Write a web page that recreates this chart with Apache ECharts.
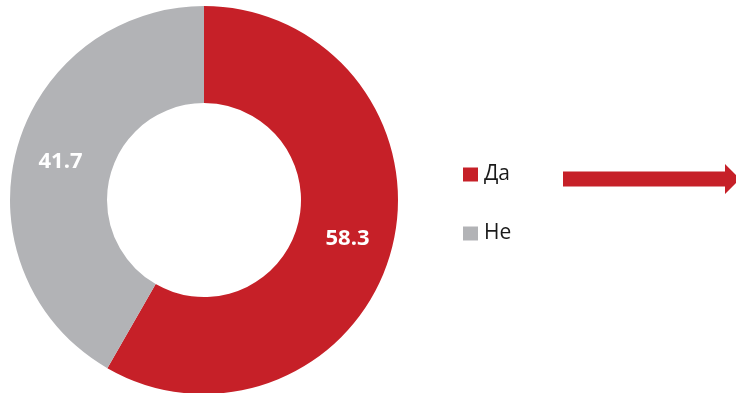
<!DOCTYPE html>
<html>
<head>
<meta charset="utf-8">
<script src="https://cdn.jsdelivr.net/npm/echarts@6/dist/echarts.min.js"></script>
<style>
html,body{margin:0;padding:0;background:#fff;}
#c{width:736px;height:393px;}
</style>
</head>
<body>
<div id="c"></div>
<script>
const categories = ['Да', 'Не'];
const values = [58.3, 41.7];
const colors = ['#C62028', '#B2B3B6'];

const chart = echarts.init(document.getElementById('c'), null, {renderer: 'canvas'});
chart.setOption({
  animation: false,
  legend: {
    orient: 'vertical',
    left: 463,
    top: 164,
    padding: 0,
    itemWidth: 15,
    itemHeight: 14,
    itemGap: 38,
    icon: 'rect',
    data: categories,
    textStyle: {fontFamily: 'Open Sans', fontSize: 21, lineHeight: 20, color: '#1a1a1a', padding: [0,0,0,1]}
  },
  graphic: [{
    type: 'polygon',
    shape: {points: [[563,171.5],[725,171.5],[725,164],[740,179],[725,194],[725,186.5],[563,186.5]]},
    style: {fill: '#C62028'}
  }],
  series: [{
    type: 'pie',
    center: [204, 200],
    radius: [97, 194],
    startAngle: 90,
    clockwise: true,
    silent: true,
    label: {
      show: true,
      position: 'inside',
      formatter: p => p.value.toFixed(1),
      color: '#fff',
      fontFamily: 'Open Sans',
      fontWeight: 'bold',
      fontSize: 22
    },
    labelLine: {show: false},
    itemStyle: {borderWidth: 0},
    data: categories.map((c, i) => ({name: c, value: values[i], itemStyle: {color: colors[i]}}))
  }]
});
</script>
</body>
</html>
